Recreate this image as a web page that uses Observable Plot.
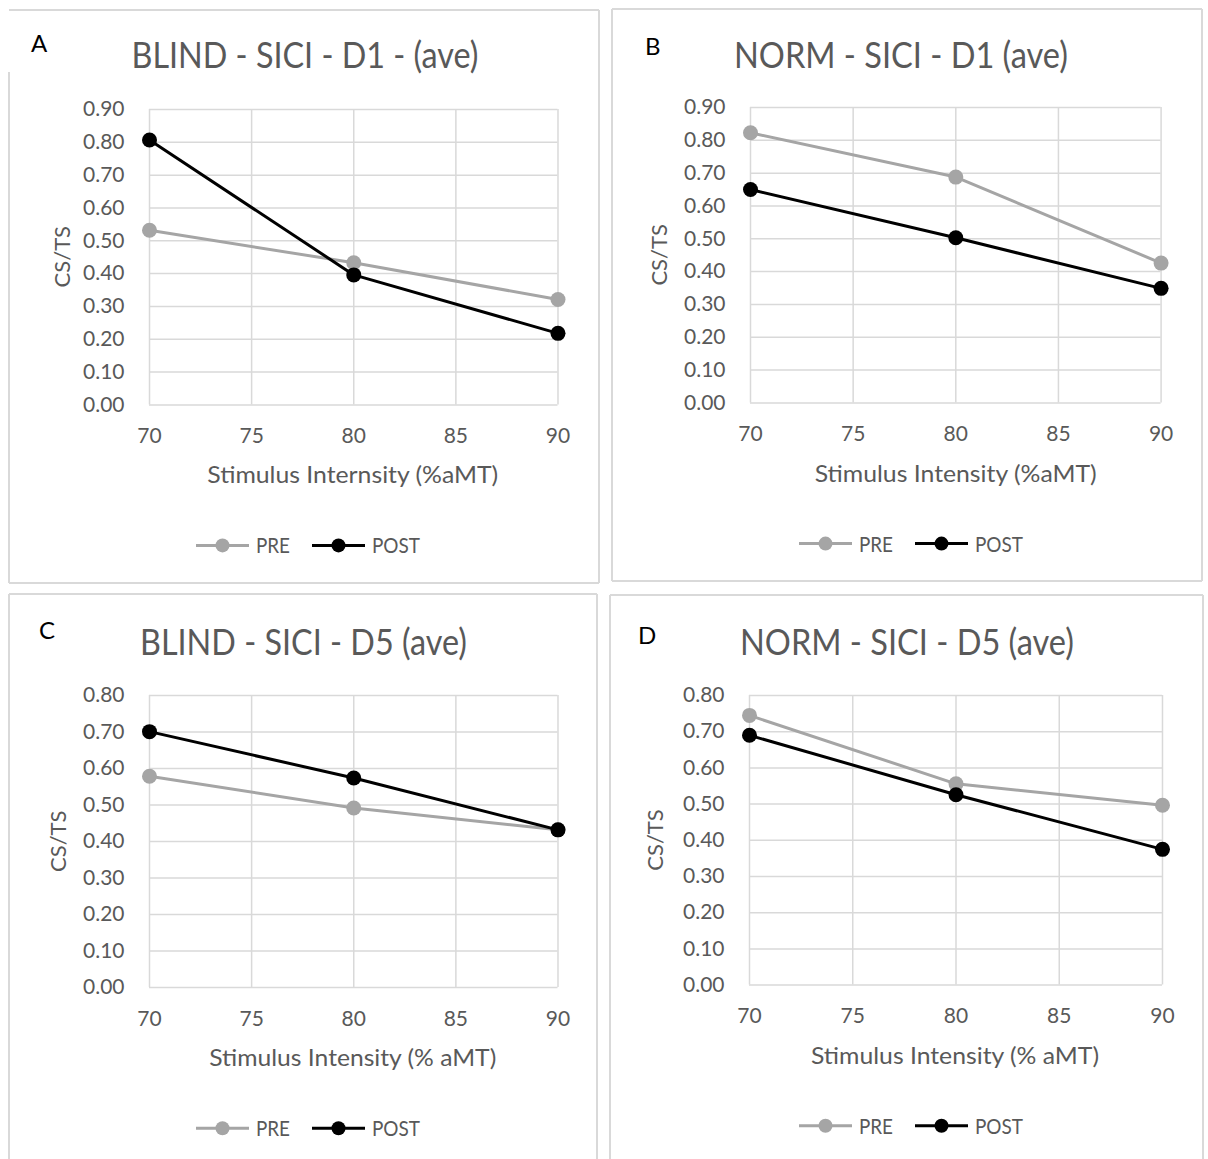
<!DOCTYPE html>
<html>
<head>
<meta charset="utf-8">
<script src="https://cdn.jsdelivr.net/npm/d3@7"></script>
<script src="https://cdn.jsdelivr.net/npm/@observablehq/plot@0.6"></script>
<style>
  html, body { margin: 0; padding: 0; background: #ffffff; }
  #fig { position: relative; width: 1208px; height: 1159px; overflow: hidden; background: #ffffff; font-family: Lato, "Open Sans", sans-serif; }
  #fig .plotwrap { position: absolute; }
  #overlay { position: absolute; left: 0; top: 0; pointer-events: none; }
</style>
</head>
<body>
<div id="fig"></div>
<script>
// ---------- data ----------
const intensity = [70, 80, 90];
const xTicks = [70, 75, 80, 85, 90];
const yTicksD1 = [0, 0.1, 0.2, 0.3, 0.4, 0.5, 0.6, 0.7, 0.8, 0.9];
const yTicksD5 = [0, 0.1, 0.2, 0.3, 0.4, 0.5, 0.6, 0.7, 0.8];
const seriesNames = ["PRE", "POST"];
const seriesColors = ["#a5a5a5", "#000000"];
const panelLetters = ["A", "B", "C", "D"];
const panelTitles = ["BLIND - SICI - D1 - (ave)", "NORM - SICI - D1 (ave)", "BLIND - SICI - D5 (ave)", "NORM - SICI - D5 (ave)"];
const xAxisTitles = ["Stimulus Internsity (%aMT)", "Stimulus Intensity (%aMT)", "Stimulus Intensity (% aMT)", "Stimulus Intensity (% aMT)"];
const yAxisTitle = "CS/TS";

const blindD1Pre  = [0.532, 0.433, 0.321];
const blindD1Post = [0.807, 0.396, 0.218];
const normD1Pre   = [0.823, 0.688, 0.426];
const normD1Post  = [0.650, 0.503, 0.349];
const blindD5Pre  = [0.579, 0.492, 0.432];
const blindD5Post = [0.701, 0.574, 0.432];
const normD5Pre   = [0.745, 0.556, 0.497];
const normD5Post  = [0.690, 0.526, 0.375];

const panelSeries = [
  [blindD1Pre, blindD1Post],
  [normD1Pre, normD1Post],
  [blindD5Pre, blindD5Post],
  [normD5Pre, normD5Post]
];
const panelYTicks = [yTicksD1, yTicksD1, yTicksD5, yTicksD5];

// ---------- layout (pixels) ----------
const frames = [
  {box: [9, 10, 599, 583], leftFrom: 72, plot: [148.5, 109, 557, 404.4], titleX: 305, titleY: 68, titleW: 347, xTitleW: 291, letterX: 31, letterY: 52, yTitleX: 61, legendX: 196},
  {box: [612, 9, 1202, 581], plot: [750.4, 107.2, 1161, 402.6], titleX: 901, titleY: 68, titleW: 334, xTitleW: 282, letterX: 645, letterY: 54.5, yTitleX: 658, legendX: 799},
  {box: [9, 594, 597, 1180], plot: [148.5, 695.2, 557, 987.3], titleX: 303.5, titleY: 655, titleW: 327, xTitleW: 287, letterX: 39, letterY: 639, yTitleX: 57, legendX: 196},
  {box: [610, 595, 1203, 1180], plot: [748.5, 695.2, 1161.5, 984.8], titleX: 907, titleY: 655, titleW: 334, xTitleW: 288, letterX: 638, letterY: 644, yTitleX: 654, legendX: 799}
];
const legendTextW = [34, 48];

const FONT = "Lato, 'Open Sans', sans-serif";
const TEXT = "#595959";
const GRID = "#d9d9d9";
const mL = 90, mR = 20, mT = 15, mB = 50;

const fig = document.getElementById("fig");
const svgNS = "http://www.w3.org/2000/svg";
const overlay = document.createElementNS(svgNS, "svg");
overlay.setAttribute("id", "overlay");
overlay.setAttribute("width", 1208);
overlay.setAttribute("height", 1159);

function el(name, attrs, parent) {
  const e = document.createElementNS(svgNS, name);
  for (const k in attrs) e.setAttribute(k, attrs[k]);
  (parent || overlay).appendChild(e);
  return e;
}
function txt(str, attrs) {
  const t = el("text", Object.assign({"font-family": FONT}, attrs));
  t.textContent = str;
  return t;
}

panelLetters.forEach((letter, i) => {
  const f = frames[i];
  const [pl, pt, pr, pb] = f.plot;
  const pw = pr - pl, ph = pb - pt;
  const ticks = panelYTicks[i];
  const rows = seriesNames.map((s, k) => intensity.map((x, j) => ({x, y: panelSeries[i][k][j], series: s})));

  const chart = Plot.plot({
    width: pw + mL + mR,
    height: ph + mT + mB,
    marginLeft: mL, marginRight: mR, marginTop: mT, marginBottom: mB,
    style: {fontFamily: FONT, fontSize: "21px", color: TEXT, background: "transparent", overflow: "visible"},
    x: {domain: [70, 90]},
    y: {domain: [0, ticks[ticks.length - 1]]},
    color: {domain: seriesNames, range: seriesColors},
    marks: [
      Plot.gridY(ticks, {stroke: GRID, strokeOpacity: 1, strokeWidth: 1.5}),
      Plot.gridX(xTicks, {stroke: GRID, strokeOpacity: 1, strokeWidth: 1.5}),
      Plot.axisX(xTicks, {tickSize: 0, tickPadding: 23, label: null, fontSize: 21, fill: TEXT}),
      Plot.axisY(ticks, {tickSize: 0, tickPadding: 25, label: null, fontSize: 21, fill: TEXT, tickFormat: d3.format(".2f")}),
      ...rows.flatMap(r => [
        Plot.line(r, {x: "x", y: "y", stroke: "series", strokeWidth: 3, strokeLinejoin: "round"}),
        Plot.dot(r, {x: "x", y: "y", fill: "series", r: 7.5, stroke: null})
      ])
    ]
  });
  const wrap = document.createElement("div");
  wrap.className = "plotwrap";
  wrap.style.left = (pl - mL) + "px";
  wrap.style.top = (pt - mT) + "px";
  wrap.appendChild(chart);
  fig.appendChild(wrap);

  // panel border
  const [bx0, by0, bx1, by1] = f.box;
  const bs = {stroke: GRID, "stroke-width": 2, fill: "none"};
  el("line", Object.assign({x1: bx0, y1: by0, x2: bx1, y2: by0}, bs));
  el("line", Object.assign({x1: bx1, y1: by0, x2: bx1, y2: by1}, bs));
  el("line", Object.assign({x1: bx0, y1: by1, x2: bx1, y2: by1}, bs));
  el("line", Object.assign({x1: bx0, y1: f.leftFrom || by0, x2: bx0, y2: by1}, bs));

  // letter
  txt(letter, {x: f.letterX, y: f.letterY, "font-size": 24, fill: "#000000"});
  // title
  txt(panelTitles[i], {x: f.titleX, y: f.titleY, "font-size": 37, fill: TEXT, "text-anchor": "middle",
    textLength: f.titleW, lengthAdjust: "spacingAndGlyphs"});
  // x axis title
  txt(xAxisTitles[i], {x: (pl + pr) / 2, y: pb + 79, "font-size": 24, fill: TEXT, "text-anchor": "middle",
    textLength: f.xTitleW, lengthAdjust: "spacingAndGlyphs"});
  // y axis title
  txt(yAxisTitle, {x: 0, y: 0, "font-size": 22, fill: TEXT, "text-anchor": "middle", "dominant-baseline": "central",
    transform: `translate(${f.yTitleX},${(pt + pb) / 2}) rotate(-90)`});

  // legend
  const ly = pb + 141;
  let lx = f.legendX;
  seriesNames.forEach((s, k) => {
    el("line", {x1: lx, y1: ly, x2: lx + 53, y2: ly, stroke: seriesColors[k], "stroke-width": 3});
    el("circle", {cx: lx + 26.5, cy: ly, r: 7, fill: seriesColors[k]});
    txt(s, {x: lx + 60, y: ly + 8, "font-size": 22, fill: TEXT, textLength: legendTextW[k], lengthAdjust: "spacingAndGlyphs"});
    lx = lx + 60 + legendTextW[k] + 22;
  });
});
fig.appendChild(overlay);
</script>
</body>
</html>
